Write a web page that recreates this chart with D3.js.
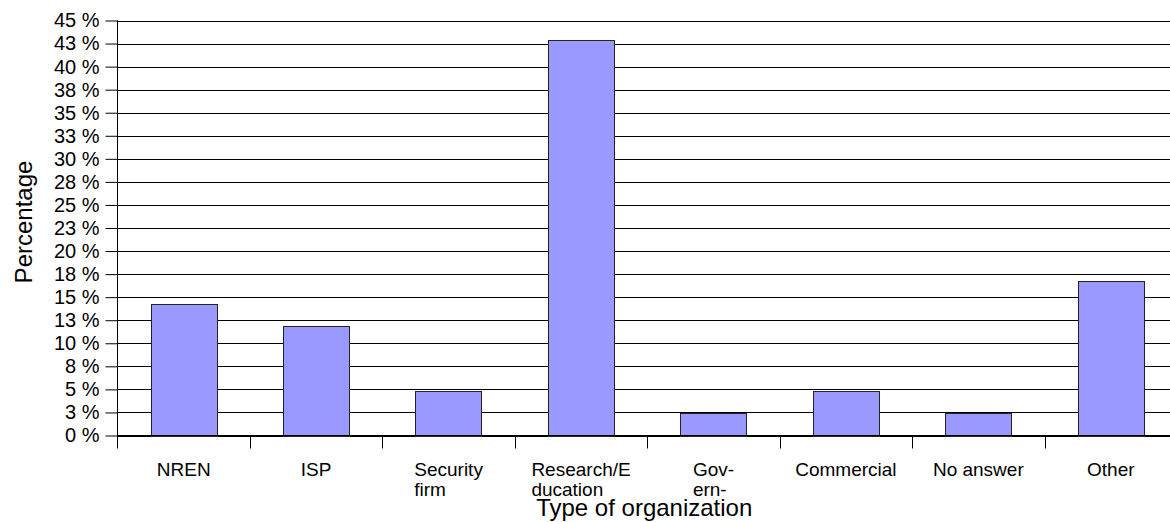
<!DOCTYPE html>
<html>
<head>
<meta charset="utf-8">
<script src="https://cdn.jsdelivr.net/npm/d3@7"></script>
<style>
  body { margin: 0; background: #fff; }
  svg { display: block; font-family: "Liberation Sans", Arial, sans-serif; }
</style>
</head>
<body>
<svg class="chart"></svg>
<script>
// categories (each entry = label lines as drawn)
var categories = ["NREN", "ISP", "Security firm", "Research/Education", "Government", "Commercial", "No answer", "Other"];
var categoryLines = [["NREN"], ["ISP"], ["Security", "firm"], ["Research/E", "ducation"], ["Gov-", "ern-"], ["Commercial"], ["No answer"], ["Other"]];
// percentage per organization type
var percentages = [14.3, 11.9, 4.8, 42.9, 2.4, 4.8, 2.4, 16.7];
// y ticks and their labels (rounded like the original)
var yTickValues = [0, 2.5, 5, 7.5, 10, 12.5, 15, 17.5, 20, 22.5, 25, 27.5, 30, 32.5, 35, 37.5, 40, 42.5, 45];
var yTickLabels = ["0 %", "3 %", "5 %", "8 %", "10 %", "13 %", "15 %", "18 %", "20 %", "23 %", "25 %", "28 %", "30 %", "33 %", "35 %", "38 %", "40 %", "43 %", "45 %"];

const width = 1170;
const height = 522;
const marginLeft = 117.5;
const plotRight = 1177;   // plot area runs past the right edge of the picture
const marginTop = 20.5;
const plotBottom = 435.5;

var svg = d3.select(".chart")
    .attr("width", width)
    .attr("height", height);

var x = d3.scaleBand()
    .domain(categories)
    .range([marginLeft, plotRight])
    .padding(0);

var y = d3.scaleLinear()
    .domain([0, 45])
    .range([plotBottom, marginTop]);

// gridlines
svg.append("g")
    .selectAll("line")
    .data(yTickValues)
    .enter()
    .append("line")
    .attr("x1", marginLeft)
    .attr("x2", plotRight)
    .attr("y1", d => Math.round(y(d)) + 0.5)
    .attr("y2", d => Math.round(y(d)) + 0.5)
    .attr("stroke", "#000")
    .attr("stroke-width", 1);

// bars
var barW = x.bandwidth() * 0.5;
svg.append("g")
    .selectAll("rect")
    .data(percentages)
    .enter()
    .append("rect")
    .attr("x", (d, i) => Math.round(x(categories[i]) + (x.bandwidth() - barW) / 2) + 0.5)
    .attr("y", d => Math.round(y(d)) + 0.5)
    .attr("width", Math.round(barW))
    .attr("height", d => Math.round(plotBottom) - Math.round(y(d)))
    .attr("fill", "#9999ff")
    .attr("stroke", "#222")
    .attr("stroke-width", 1);

// y axis
var yAxis = d3.axisLeft(y)
    .tickValues(yTickValues)
    .tickFormat((d, i) => yTickLabels[i])
    .tickSize(12)
    .tickPadding(6);

var yAxisGroup = svg.append("g")
    .attr("transform", `translate(${marginLeft},0)`)
    .call(yAxis);
yAxisGroup.select(".domain").attr("d", `M0,${marginTop}V${plotBottom + 13}`).attr("stroke", "#000");
yAxisGroup.selectAll(".tick line").attr("stroke", "#000");
yAxisGroup.selectAll(".tick text")
    .style("font-size", "20px")
    .style("font-family", "Liberation Sans, Arial, sans-serif")
    .attr("fill", "#000");

// x axis baseline + category separators
svg.append("line")
    .attr("x1", marginLeft)
    .attr("x2", plotRight)
    .attr("y1", plotBottom)
    .attr("y2", plotBottom)
    .attr("stroke", "#000");

svg.append("g")
    .selectAll("line")
    .data(categories.slice(1))
    .enter()
    .append("line")
    .attr("x1", d => Math.round(x(d)) + 0.5)
    .attr("x2", d => Math.round(x(d)) + 0.5)
    .attr("y1", plotBottom)
    .attr("y2", plotBottom + 13)
    .attr("stroke", "#000");

// category labels: lines left aligned, block centred in band
var labels = svg.append("g")
    .selectAll("text")
    .data(categories)
    .enter()
    .append("text")
    .style("font-size", "19px")
    .attr("fill", "#000");

labels.each(function (d, i) {
    var t = d3.select(this);
    categoryLines[i].forEach((line, j) => {
        t.append("tspan")
            .attr("y", 476 + j * 20)
            .text(line);
    });
    var maxW = d3.max(t.selectAll("tspan").nodes(), n => n.getComputedTextLength());
    var left = x(d) + x.bandwidth() / 2 - maxW / 2;
    t.selectAll("tspan").attr("x", left);
});

// axis titles
svg.append("text")
    .attr("x", (marginLeft + plotRight) / 2 - 3)
    .attr("y", 516)
    .attr("text-anchor", "middle")
    .style("font-size", "24px")
    .text("Type of organization");

svg.append("text")
    .attr("transform", `translate(32,${(marginTop + plotBottom) / 2 - 6}) rotate(-90)`)
    .attr("text-anchor", "middle")
    .style("font-size", "24px")
    .text("Percentage");
</script>
</body>
</html>
